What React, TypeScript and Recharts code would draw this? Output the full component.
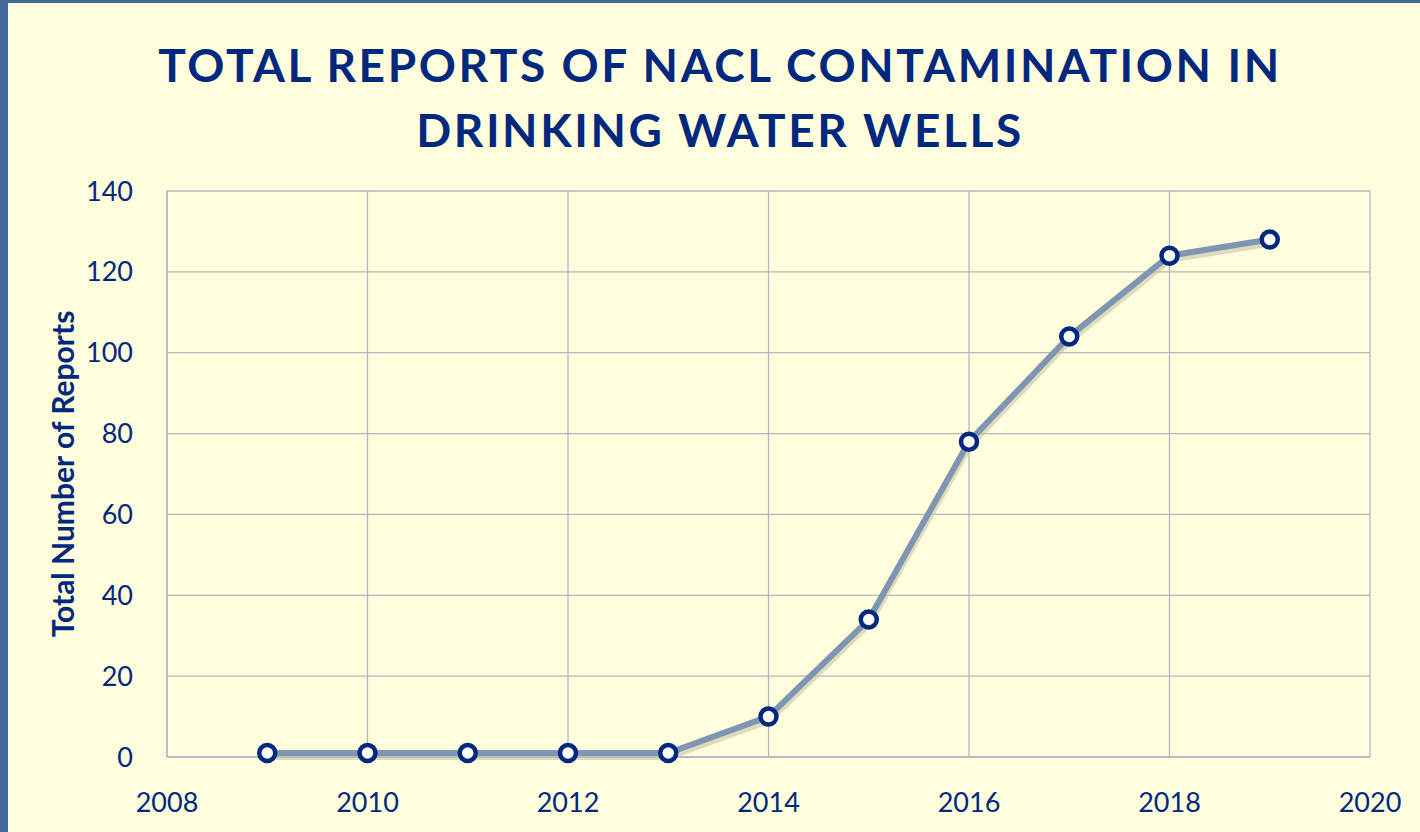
import React from "react";
import { LineChart, Line, XAxis, YAxis, CartesianGrid } from "recharts";

const years = [2009, 2010, 2011, 2012, 2013, 2014, 2015, 2016, 2017, 2018, 2019];
const reports = [1, 1, 1, 1, 1, 10, 34, 78, 104, 124, 128];
const xTicks = [2008, 2010, 2012, 2014, 2016, 2018, 2020];
const yTicks = [0, 20, 40, 60, 80, 100, 120, 140];
const titleLines = ["TOTAL REPORTS OF NACL CONTAMINATION IN", "DRINKING WATER WELLS"];

const data = years.map((y, i) => ({ year: y, value: reports[i] }));

const NAVY = "#00287F";
const GRID = "#AEB8C2";
const FONT = "Lato, 'Open Sans', sans-serif";

export default function App() {
  return (
    <div
      style={{
        position: "absolute",
        left: 0,
        top: 0,
        width: 1420,
        height: 832,
        background: "#41699A",
        overflow: "hidden",
      }}
    >
      <div
        style={{
          position: "absolute",
          left: 8,
          top: 3,
          width: 1412,
          height: 829,
          background: "#FFFDDC",
        }}
      />
      <div
        style={{
          position: "absolute",
          left: 0,
          top: 32,
          width: 1440,
          textAlign: "center",
          fontFamily: FONT,
          fontWeight: 700,
          fontSize: 46,
          letterSpacing: 2.6,
          lineHeight: "65px",
          color: NAVY,
        }}
      >
        {titleLines.map((t) => (
          <div key={t}>{t}</div>
        ))}
      </div>
      <div style={{ position: "absolute", left: 0, top: 0 }}>
        <LineChart
          width={1420}
          height={832}
          data={data}
          margin={{ top: 191, right: 50, bottom: 25, left: 47 }}
        >
          <defs>
            <filter id="lineShadow" x="-5%" y="-5%" width="110%" height="115%">
              <feDropShadow dx="1" dy="4" stdDeviation="0.6" floodColor="#C8C4A8" floodOpacity="0.6" />
            </filter>
          </defs>
          <CartesianGrid stroke={GRID} strokeWidth={1.3} />
          <XAxis
            dataKey="year"
            type="number"
            domain={[2008, 2020]}
            ticks={xTicks}
            height={50}
            axisLine={{ stroke: GRID, strokeWidth: 1.3 }}
            tickLine={false}
            tickMargin={30}
            tick={{ fill: NAVY, fontSize: 27, fontFamily: FONT }}
          />
          <YAxis
            type="number"
            domain={[0, 140]}
            ticks={yTicks}
            width={120}
            axisLine={{ stroke: GRID, strokeWidth: 1.3 }}
            tickLine={false}
            tickMargin={28}
            tick={{ fill: NAVY, fontSize: 27, fontFamily: FONT }}
            label={{
              value: "Total Number of Reports",
              angle: -90,
              position: "insideLeft",
              dx: 11,
              dy: 0,
              style: {
                textAnchor: "middle",
                fill: NAVY,
                fontSize: 30,
                fontWeight: 700,
                fontFamily: FONT,
              },
            }}
          />
          <Line
            dataKey="value"
            stroke="#7F96B2"
            strokeWidth={6}
            filter="url(#lineShadow)"
            isAnimationActive={false}
            dot={{ r: 8, fill: "#FFFFFF", stroke: NAVY, strokeWidth: 4.5, filter: "none" }}
            activeDot={false}
          />
        </LineChart>
      </div>
    </div>
  );
}
